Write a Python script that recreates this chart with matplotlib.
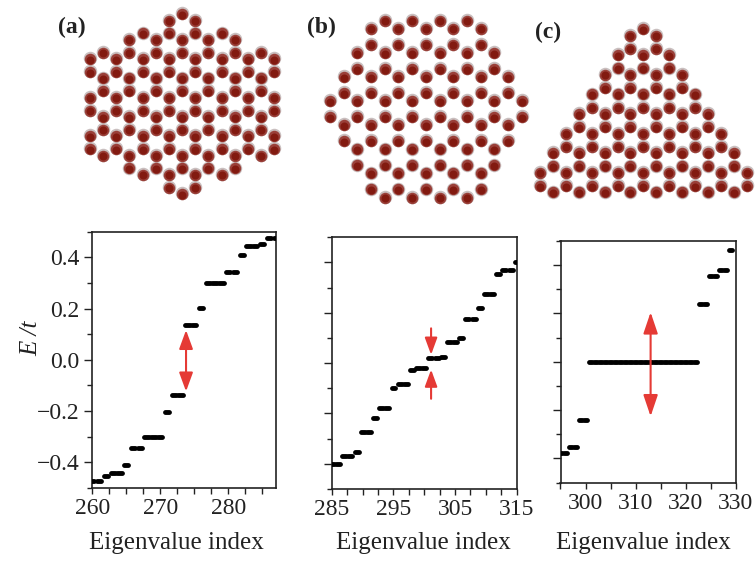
import numpy as np
import matplotlib
matplotlib.use("Agg")
import matplotlib.pyplot as plt
from matplotlib.patches import FancyArrowPatch
from matplotlib.transforms import offset_copy

plt.rcParams['font.family'] = ['Liberation Serif', 'DejaVu Serif']

# ---------------- data ----------------
a_index = list(range(260, 288))
a_energy = [-0.474, -0.474, -0.452, -0.443, -0.443, -0.409, -0.343, -0.343,
            -0.300, -0.300, -0.300, -0.204, -0.136, -0.136,
            0.136, 0.136, 0.204, 0.300, 0.300, 0.300, 0.343, 0.343,
            0.409, 0.443, 0.443, 0.452, 0.474, 0.474]

b_index = list(range(285, 317))
b_energy = [-0.403, -0.403, -0.370, -0.370, -0.354, -0.275, -0.275, -0.220,
            -0.177, -0.177, -0.101, -0.083, -0.083, -0.026, -0.021, -0.021,
            0.021, 0.021, 0.026, 0.083, 0.083, 0.101, 0.177, 0.177,
            0.220, 0.275, 0.275, 0.354, 0.370, 0.370, 0.403, 0.403]

c_index = list(range(295, 330))
c_energy = ([-0.378, -0.378, -0.354, -0.354, -0.241, -0.241] + [0.0] * 22 +
            [0.241, 0.241, 0.354, 0.354, 0.378, 0.378, 0.462])

a_xticks = [260, 270, 280]
b_xticks = [285, 295, 305, 315]
c_xticks = [300, 310, 320, 330]
y_ticks = [-0.4, -0.2, 0.0, 0.2, 0.4]
y_ticklabels = ['\u22120.4', '\u22120.2', '0.0', '0.2', '0.4']

# gap arrows (x, y_start, y_end)
a_arrow = (273.8, -0.123, 0.116)
b_arrow_top = (301.1, 0.138, 0.033)
b_arrow_bot = (301.1, -0.142, -0.026)
c_arrow = (313.0, -0.226, 0.205)

# flake sizes (lattice parameters)
a_flake_apothem = 3      # armchair hexagon
b_flake_rings = 4        # zigzag hexagon, rings per side
c_flake_rings = 8        # zigzag triangle, rings per side

# ---------------- figure ----------------
W, H = 755, 561
fig = plt.figure(figsize=(W / 100, H / 100), dpi=100)


def rect(l, t, r, b):
    return [l / W, 1 - b / H, (r - l) / W, (b - t) / H]


RED = '#e53a35'
INK = '#222222'
S3 = np.sqrt(3.0)


def style(ax, xlim, xmajor, xminor, ylabels):
    ax.set_xlim(*xlim)
    ax.set_ylim(-0.5, 0.5)
    ax.set_xticks(xmajor)
    ax.set_xticklabels([str(v) for v in xmajor])
    ax.set_xticks(xminor, minor=True)
    ax.set_yticks(y_ticks)
    ax.set_yticklabels(y_ticklabels)
    ax.set_yticks(np.arange(-0.5, 0.51, 0.1), minor=True)
    for s in ['left', 'bottom', 'right', 'top']:
        ax.spines[s].set_linewidth(1.2)
        ax.spines[s].set_color(INK)
    ax.tick_params(axis='both', which='both', direction='out', color=INK,
                   width=1.0, labelsize=17, labelcolor=INK, top=False, right=False)
    ax.tick_params(axis='x', which='both', length=4.0, pad=3.5)
    ax.tick_params(axis='y', which='major', length=6.0, pad=3)
    ax.tick_params(axis='y', which='minor', length=3.5)
    if not ylabels:
        ax.tick_params(axis='y', labelleft=False)


def levels(ax, idx, en):
    for i, e in zip(idx, en):
        ax.plot([i - 0.32, i + 0.32], [e, e], color='black', linewidth=3.5,
                solid_capstyle='round', zorder=3)


def arrow(ax, x, y0, y1, style_, ms):
    p = FancyArrowPatch((x, y0), (x, y1), arrowstyle=style_, mutation_scale=ms,
                        color=RED, lw=1.5, shrinkA=0, shrinkB=0, zorder=4)
    ax.add_patch(p)


# (a)
axa = fig.add_axes(rect(92.3, 231.7, 275.7, 488.0))
style(axa, (260, 287), a_xticks, np.arange(260, 287.1, 2.5), True)
levels(axa, a_index, a_energy)
arrow(axa, a_arrow[0], a_arrow[1], a_arrow[2],
      '<|-|>,head_length=0.6,head_width=0.22', 19)

# (b)
axb = fig.add_axes(rect(331.9, 237.3, 516.7, 488.8))
style(axb, (285, 315), b_xticks, np.arange(285, 315.1, 2.5), False)
levels(axb, b_index, b_energy)
arrow(axb, b_arrow_top[0], b_arrow_top[1], b_arrow_top[2],
      '-|>,head_length=0.6,head_width=0.22', 17)
arrow(axb, b_arrow_bot[0], b_arrow_bot[1], b_arrow_bot[2],
      '-|>,head_length=0.6,head_width=0.22', 17)

# (c)
axc = fig.add_axes(rect(560.5, 241.0, 735.7, 482.5))
style(axc, (295, 330), c_xticks, np.arange(295, 330.1, 5), False)
levels(axc, c_index, c_energy)
arrow(axc, c_arrow[0], c_arrow[1], c_arrow[2],
      '<|-|>,head_length=0.65,head_width=0.22', 20)

fig.text(31 / W, 1 - 338 / H, 'E /t', rotation=90, ha='center', va='center',
         fontsize=18, style='italic', color=INK)
for cx in (176, 423, 643):
    fig.text(cx / W, 1 - 543 / H, 'Eigenvalue index', ha='center', va='center',
             fontsize=18, color=INK)

# ---------------- flakes ----------------
ANG = np.deg2rad(90 + 60 * np.arange(6))


def atoms_from_centers(cx, cy):
    x = (np.asarray(cx)[:, None] + np.cos(ANG)[None, :]).ravel()
    y = (np.asarray(cy)[:, None] + np.sin(ANG)[None, :]).ravel()
    xy = np.unique(np.round(np.c_[x, y], 4), axis=0)
    return xy[:, 0], xy[:, 1]


def lattice(nmax):
    I, J = np.meshgrid(np.arange(-nmax, nmax + 1), np.arange(-nmax, nmax + 1))
    I = I.ravel()
    J = J.ravel()
    return I, J, S3 * I + S3 / 2 * J, 1.5 * J


# armchair hexagon
I, J, X, Y = lattice(12)
m = np.ones_like(X, bool)
for t in np.deg2rad([0, 60, 120]):
    m &= np.abs(X * np.cos(t) + Y * np.sin(t)) <= a_flake_apothem * S3 + 1e-6
fa = atoms_from_centers(X[m], Y[m])

# zigzag hexagon
I, J, X, Y = lattice(12)
m = (np.abs(I) + np.abs(J) + np.abs(I + J)) / 2 <= b_flake_rings - 1
fb = atoms_from_centers(X[m], Y[m])

# zigzag triangle
tx, ty = [], []
for k in range(c_flake_rings):
    for j in range(k + 1):
        tx.append(S3 * (j - k / 2))
        ty.append(-1.5 * k)
fc = atoms_from_centers(tx, ty)


def draw_flake(box, xy):
    ax = fig.add_axes(rect(*box))
    x, y = xy
    ax.set_xlim(x.min(), x.max())
    ax.set_ylim(y.min(), y.max())
    ax.axis('off')
    t1 = offset_copy(ax.transData, fig=fig, x=0, y=-0.8, units='dots')
    t2 = offset_copy(ax.transData, fig=fig, x=0, y=-1.4, units='dots')
    ax.scatter(x, y, s=(13.5 * 0.72) ** 2, color='#c9bfbf', lw=0, clip_on=False)
    ax.scatter(x, y, s=(11.5 * 0.72) ** 2, color='#9a4039', lw=0, clip_on=False,
               transform=t1)
    ax.scatter(x, y, s=(8.0 * 0.72) ** 2, color='#821a10', lw=0, clip_on=False,
               transform=t2)


draw_flake((90, 13.3, 274.3, 193.3), fa)
draw_flake((330, 20, 521.7, 196.7), fb)
draw_flake((540, 28.3, 746.7, 191.7), fc)

for lab, px, py in (('(a)', 72, 27), ('(b)', 321, 27), ('(c)', 548, 32)):
    fig.text(px / W, 1 - py / H, lab, ha='center', va='center', fontsize=17,
             fontweight='bold', color=INK)

fig.savefig('out.png', dpi=100)
